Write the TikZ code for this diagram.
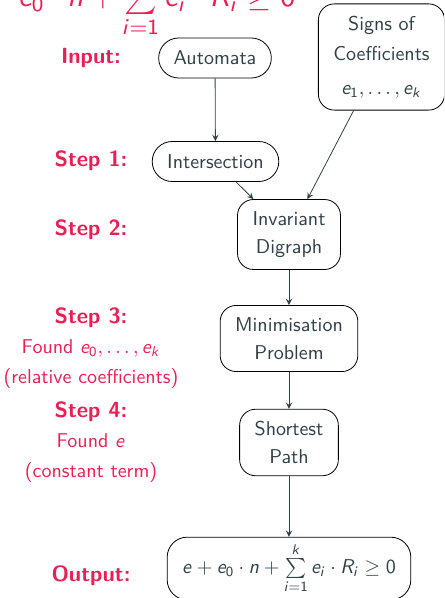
\documentclass[tikz,border=0pt]{standalone}
\usepackage{amsmath}
\renewcommand{\familydefault}{\sfdefault}
% sans math letters and digits, as on slides
\DeclareSymbolFont{sfletters}{OT1}{cmss}{m}{it}
\SetSymbolFont{operators}{normal}{OT1}{cmss}{m}{n}
\DeclareMathSymbol{e}{\mathalpha}{sfletters}{`e}
\DeclareMathSymbol{n}{\mathalpha}{sfletters}{`n}
\DeclareMathSymbol{i}{\mathalpha}{sfletters}{`i}
\DeclareMathSymbol{k}{\mathalpha}{sfletters}{`k}
\DeclareMathSymbol{R}{\mathalpha}{sfletters}{`R}
\definecolor{accent}{RGB}{235,30,85}
\definecolor{ink}{RGB}{47,64,70}
\newcommand{\steptitle}[1]{{\fontsize{11pt}{13pt}\selectfont\bfseries #1}}
\newcommand{\invform}{$e + e_0\cdot n + \sum\limits_{i=1}^{k} e_i\cdot R_i \geq 0$}

\begin{document}
\begin{tikzpicture}[x=0.5pt, y=-0.5pt, >=stealth,
    pill/.style={draw, rounded corners=10pt, minimum height=20pt, inner xsep=7.5pt, inner ysep=0pt, text=ink},
    stage/.style={draw, rounded corners=8pt, align=center, inner xsep=7.5pt, inner ysep=6pt, text=ink},
    tag/.style={text=accent, align=center},
    flow/.style={->, draw=ink}]
  % page frame (the big formula runs off the top)
  \path[use as bounding box, clip] (0,0) rectangle (444,598);

  % goal formula, cut by the frame
  \node[text=accent, scale=1.55] (goal) at (130,-2) {\invform};

  % pipeline
  \node[pill] (auto) at (215,58) {Automata};
  \node[stage, minimum height=51pt] (signs) at (381.5,57) {Signs of\\[3pt] Coefficients\\[5pt] $e_1,\dots,e_k$};
  \node[pill] (inter) at (215.5,161.5) {Intersection};
  \node[stage] (inv) at (289,234.5) {Invariant\\[2pt] Digraph};
  \node[stage] (mini) at (289,338.5) {Minimisation\\[2pt] Problem};
  \node[stage] (short) at (289,442.5) {Shortest\\[2pt] Path};
  \node[stage, rounded corners=10pt, inner ysep=3pt] (out) at (289,568.5) {\invform};

  % arrows
  \draw[flow] (auto) -- (inter);
  \draw[flow] (inter) -- (inv);
  \draw[flow] (signs) -- (inv);
  \draw[flow] (inv) -- (mini);
  \draw[flow] (mini) -- (short);
  \draw[flow] (short) -- (out);

  % step labels on the left
  \node[tag] (lin) at (91,58) {\steptitle{Input:}};
  \node[tag] (lone) at (91,161) {\steptitle{Step 1:}};
  \node[tag] (ltwo) at (91,230) {\steptitle{Step 2:}};
  \node[tag] (lthree) at (91,348.5) {\steptitle{Step 3:}\\[3pt] Found $e_0,\dots,e_k$\\[3pt] (relative coefficients)};
  \node[tag] (lfour) at (91,442) {\steptitle{Step 4:}\\[3pt] Found $e$\\[3pt] (constant term)};
  \node[tag] (lout) at (91,576) {\steptitle{Output:}};
\end{tikzpicture}
\end{document}
